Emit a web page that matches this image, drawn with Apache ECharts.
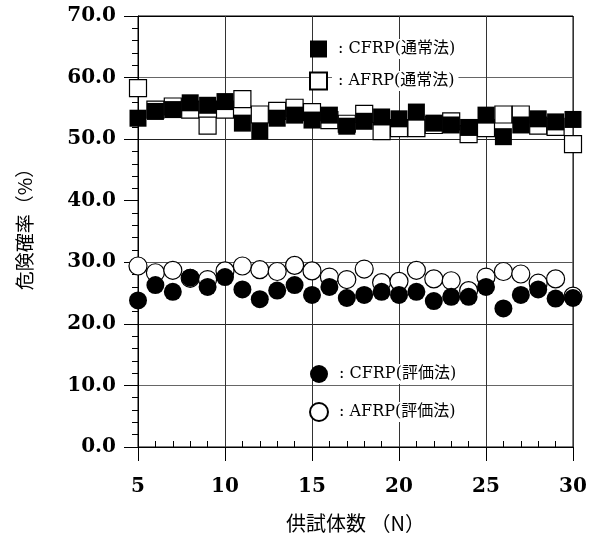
<!DOCTYPE html>
<html>
<head>
<meta charset="utf-8">
<script src="https://cdn.jsdelivr.net/npm/echarts@6/dist/echarts.min.js"></script>
<style>
html,body{margin:0;padding:0;background:#fff;}
#chart{width:594px;height:538px;}
</style>
</head>
<body>
<div id="chart"></div>
<script>
// 供試体数 N
var nums = [5,6,7,8,9,10,11,12,13,14,15,16,17,18,19,20,21,22,23,24,25,26,27,28,29,30];
// 危険確率 (%)
var cfrpStd  = [53.4,54.5,54.8,55.9,55.5,56.1,52.6,51.3,53.4,53.9,53.1,53.9,52.1,52.9,53.6,53.3,54.4,52.6,52.3,51.9,53.9,50.4,52.3,53.3,52.8,53.2];
var afrpStd  = [58.3,54.8,55.3,54.8,52.2,54.8,56.5,54.0,54.6,55.1,54.4,53.1,52.5,54.1,51.3,51.8,51.8,52.3,52.9,50.8,51.8,54.0,54.0,52.2,52.0,49.2];
var cfrpEval = [23.8,26.3,25.2,27.5,26.0,27.6,25.6,24.0,25.4,26.3,24.7,26.0,24.2,24.7,25.2,24.7,25.2,23.7,24.4,24.4,26.0,22.5,24.7,25.6,24.1,24.2];
var afrpEval = [29.4,28.3,28.7,27.4,27.2,28.6,29.4,28.8,28.5,29.5,28.6,27.6,27.2,28.9,26.7,26.9,28.7,27.3,27.0,25.4,27.6,28.5,28.1,26.6,27.3,24.5];
var yTicks = [0,10,20,30,40,50,60,70];

var serifFont = '"DejaVu Serif","Noto Sans CJK JP",serif';
var cjkFont = '"Noto Sans CJK JP",sans-serif';

function pairs(vals){
    var out = [];
    for (var i = 0; i < nums.length; i++) {
        out.push([nums[i], vals[i]]);
    }
    return out;
}

var chart = echarts.init(document.getElementById('chart'));

var legendText = {color:'#000', fontFamily:serifFont, fontSize:16, backgroundColor:'#fff', padding:[2,4,2,6]};

var option = {
    animation: false,
    backgroundColor: '#fff',
    grid: {left:138, right:21, top:16, bottom:91, show:true, borderColor:'#000', borderWidth:1},
    legend: [
        {
            data: ['CFRP(通常法)','AFRP(通常法)'],
            orient: 'vertical', left: 304, top: 34,
            itemWidth: 17, itemHeight: 17, itemGap: 12,
            formatter: function(n){ return ': ' + n; },
            textStyle: legendText
        },
        {
            data: ['CFRP(評価法)','AFRP(評価法)'],
            orient: 'vertical', left: 304, top: 359,
            itemWidth: 18, itemHeight: 18, itemGap: 18,
            formatter: function(n){ return ': ' + n; },
            textStyle: legendText
        }
    ],
    xAxis: [
        {
            type: 'value', min: 5, max: 30, interval: 5,
            name: '供試体数 （N）', nameLocation: 'middle', nameGap: 66,
            nameTextStyle: {color:'#000', fontFamily:cjkFont, fontSize:20},
            axisLine: {lineStyle:{color:'#000', width:1}},
            axisTick: {show:true, inside:false, length:14, lineStyle:{color:'#000'}},
            minorTick: {show:false},
            axisLabel: {color:'#000', fontFamily:serifFont, fontSize:20, fontWeight:'bold', margin:30},
            splitLine: {show:true, lineStyle:{color:'#333', width:1}}
        },
        {
            type: 'value', min: 5, max: 30, interval: 5, position: 'bottom',
            axisLine: {show:false},
            axisTick: {show:false, inside:true},
            minorTick: {show:true, splitNumber:5, length:6, lineStyle:{color:'#000', width:1}},
            axisLabel: {show:false},
            splitLine: {show:false}
        }
    ],
    yAxis: {
        type: 'value', min: 0, max: 70, interval: 10,
        name: '危険確率（%）', nameLocation: 'middle', nameGap: 104,
        nameTextStyle: {color:'#000', fontFamily:cjkFont, fontSize:19, padding:[0,0,0,14]},
        axisLine: {show:true, lineStyle:{color:'#000', width:1}},
        axisTick: {show:true, inside:false, length:14, lineStyle:{color:'#000'}},
        minorTick: {show:true, splitNumber:5, length:6, lineStyle:{color:'#000'}},
        axisLabel: {
            color:'#000', fontFamily:serifFont, fontSize:20, fontWeight:'bold', margin:22,
            formatter: function(v){ return yTicks.indexOf(v) >= 0 ? v.toFixed(1) : ''; }
        },
        splitLine: {show:true, lineStyle:{color:['#000','#666','#222','#555','rgba(0,0,0,0)','#222','#666','#000'], width:1}}
    },
    series: [
        {
            name: 'AFRP(通常法)', type: 'scatter', symbol: 'rect', symbolSize: 17,
            itemStyle: {color:'#fff', borderColor:'#000', borderWidth:1.2, opacity:1},
            data: pairs(afrpStd), z: 2
        },
        {
            name: 'CFRP(通常法)', type: 'scatter', symbol: 'rect', symbolSize: 17,
            itemStyle: {color:'#000', borderColor:'#000', borderWidth:0, opacity:1},
            data: pairs(cfrpStd), z: 3
        },
        {
            name: 'AFRP(評価法)', type: 'scatter', symbol: 'circle', symbolSize: 18,
            itemStyle: {color:'#fff', borderColor:'#000', borderWidth:1.2, opacity:1},
            data: pairs(afrpEval), z: 2
        },
        {
            name: 'CFRP(評価法)', type: 'scatter', symbol: 'circle', symbolSize: 18,
            itemStyle: {color:'#000', borderColor:'#000', borderWidth:0, opacity:1},
            data: pairs(cfrpEval), z: 3
        }
    ]
};

chart.setOption(option);
</script>
</body>
</html>
